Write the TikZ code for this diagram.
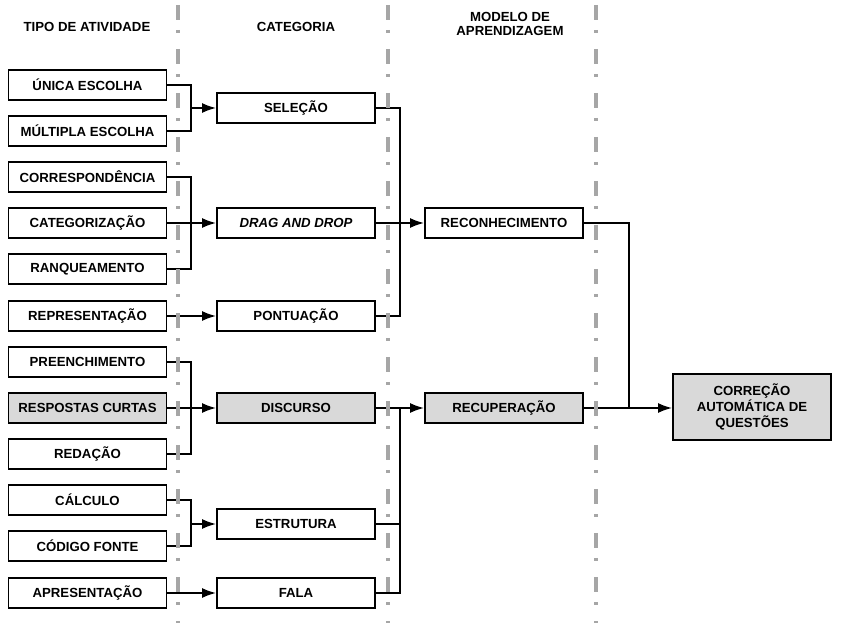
\documentclass[tikz,border=0pt]{standalone}
\usepackage{fontspec}
\setmainfont{Liberation Sans}
\usetikzlibrary{positioning,arrows.meta,calc}

\begin{document}
\begin{tikzpicture}[x=0.75pt,y=-0.75pt,>={Latex[length=10.5pt,width=7.5pt]},
	box/.style={draw,line width=1.4pt,fill=white,inner sep=0pt,
		minimum width=118.5pt,minimum height=22pt,
		font=\fontsize{9.9}{12}\selectfont\bfseries},
	grey/.style={fill=black!15},
	head/.style={font=\fontsize{9.9}{10.5}\selectfont\bfseries,align=center},
	sep/.style={draw=black!35,line width=2.8pt,
		dash pattern=on 11.25pt off 7.5pt on 2.25pt off 12pt},
	link/.style={line width=1.3pt}]
	\useasboundingbox (0,0) rectangle (843,623);

	\node[head] (H1) at (87,27) {TIPO DE ATIVIDADE};
	\node[head] (H2) at (296,27) {CATEGORIA};
	\node[head] (H3) at (510,24) {MODELO DE\\APRENDIZAGEM};

	% tipo de atividade
	\node[box] (A1) at (87.5,85) {ÚNICA ESCOLHA};
	\node[box] (A2) at (87.5,131) {MÚLTIPLA ESCOLHA};
	\node[box] (A3) at (87.5,177) {CORRESPONDÊNCIA};
	\node[box] (A4) at (87.5,223) {CATEGORIZAÇÃO};
	\node[box] (A5) at (87.5,269) {RANQUEAMENTO};
	\node[box] (A6) at (87.5,316) {REPRESENTAÇÃO};
	\node[box] (A7) at (87.5,362) {PREENCHIMENTO};
	\node[box,grey] (A8) at (87.5,408) {RESPOSTAS CURTAS};
	\node[box] (A9) at (87.5,454) {REDAÇÃO};
	\node[box] (A10) at (87.5,500) {CÁLCULO};
	\node[box] (A11) at (87.5,546) {CÓDIGO FONTE};
	\node[box] (A12) at (87.5,593) {APRESENTAÇÃO};

	% categoria
	\node[box] (C1) at (296,108) {SELEÇÃO};
	\node[box] (C2) at (296,223) {\textit{DRAG AND DROP}};
	\node[box] (C3) at (296,316) {PONTUAÇÃO};
	\node[box,grey] (C4) at (296,408) {DISCURSO};
	\node[box] (C5) at (296,524) {ESTRUTURA};
	\node[box] (C6) at (296,593) {FALA};

	% modelo de aprendizagem
	\node[box] (M1) at (504,223) {RECONHECIMENTO};
	\node[box,grey] (M2) at (504,408) {RECUPERAÇÃO};

	\node[box,grey,minimum height=49pt,align=center]
		(F) at (752,407) {CORREÇÃO\\AUTOMÁTICA DE\\QUESTÕES};

	\coordinate (J1) at (191,108);
	\coordinate (J2) at (191,223);
	\coordinate (J3) at (191,408);
	\coordinate (J4) at (191,524);
	\coordinate (K1) at (400,223);
	\coordinate (K2) at (400,408);
	\coordinate (L1) at (629,407);

	\draw[link] (A1.east) -| (J1);
	\draw[link] (A2.east) -| (J1);
	\draw[link,->] (J1) -- (C1);
	\draw[link] (A3.east) -| (J2);
	\draw[link] (A5.east) -| (J2);
	\draw[link,->] (A4) -- (C2);
	\draw[link,->] (A6) -- (C3);
	\draw[link] (A7.east) -| (J3);
	\draw[link] (A9.east) -| (J3);
	\draw[link,->] (A8) -- (C4);
	\draw[link] (A10.east) -| (J4);
	\draw[link] (A11.east) -| (J4);
	\draw[link,->] (J4) -- (C5);
	\draw[link,->] (A12) -- (C6);

	\draw[link] (C1.east) -| (K1);
	\draw[link] (C3.east) -| (K1);
	\draw[link,->] (C2) -- (M1);
	\draw[link] (C5.east) -| (K2);
	\draw[link] (C6.east) -| (K2);
	\draw[link,->] (C4) -- (M2);

	\draw[link] (M1.east) -| (L1);
	\draw[link,->] (M2.east) -- (F.west |- M2.east);

	% separadores
	\draw[sep] (178,5) -- (178,623);
	\draw[sep] (388,5) -- (388,623);
	\draw[sep] (596,5) -- (596,623);
\end{tikzpicture}
\end{document}
